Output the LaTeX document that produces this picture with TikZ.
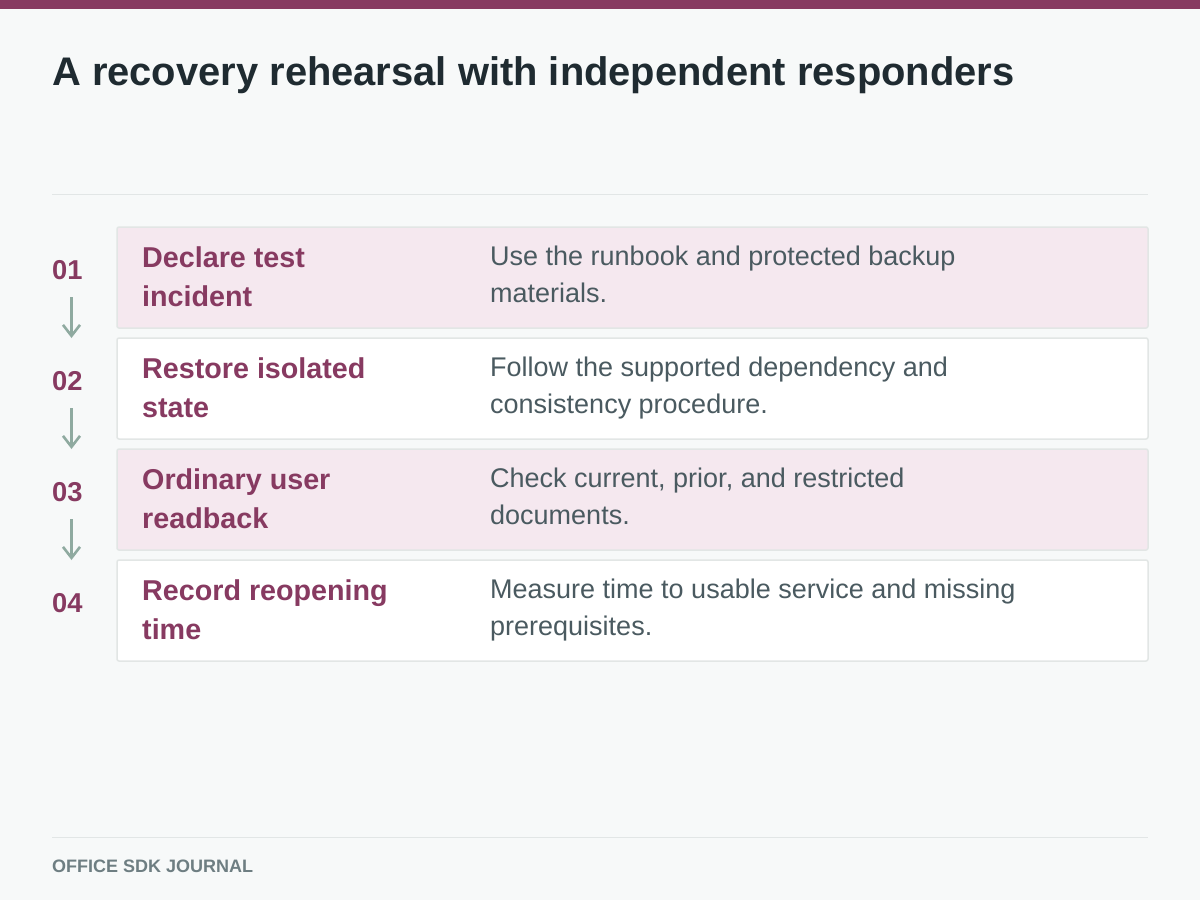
\documentclass[tikz,border=0pt]{standalone}
\usepackage{fontspec}
\setmainfont{Liberation Sans}
\usetikzlibrary{arrows.meta}
\definecolor{barc}{HTML}{873A61}
\definecolor{bgc}{HTML}{F7F9F9}
\definecolor{titlec}{HTML}{1F2B31}
\definecolor{rulec}{HTML}{E2E6E6}
\definecolor{pinkc}{HTML}{F5E8EF}
\definecolor{boxline}{HTML}{E2E6E5}
\definecolor{headc}{HTML}{873A61}
\definecolor{descc}{HTML}{4A5A60}
\definecolor{arrowc}{HTML}{8FAAA0}
\definecolor{footc}{HTML}{6E7E82}
\tikzset{
  rowbox/.style={draw=boxline, line width=1.5pt, rounded corners=2pt},
  pinkrow/.style={rowbox, fill=pinkc},
  whiterow/.style={rowbox, fill=white},
  numtext/.style={anchor=base west, inner sep=0pt, text=headc, font=\bfseries\fontsize{27.3}{30}\selectfont},
  headtext/.style={anchor=base west, inner sep=0pt, align=left, text=headc, font=\bfseries\fontsize{28.7}{39}\selectfont},
  desctext/.style={anchor=base west, inner sep=0pt, align=left, text=descc, font=\fontsize{27}{37}\selectfont},
  steparrow/.style={draw=arrowc, line width=2.6pt, -{Straight Barb[length=11pt,width=17pt,line width=2.6pt]}},
}
\begin{document}
\begin{tikzpicture}[x=1pt,y=-1pt]
\useasboundingbox (0,0) rectangle (1200,900);
\fill[bgc] (0,0) rectangle (1200,900);
\fill[barc] (0,0) rectangle (1200,9);
\node[anchor=base west, inner sep=0pt, text=titlec, font=\bfseries\fontsize{39.9}{45}\selectfont] (title) at (52,85) {A recovery rehearsal with independent responders};
\draw[rulec, line width=1.5pt] (52,194.5) coordinate (r1a) -- (1148,194.5) coordinate (r1b);
% rows
\draw[pinkrow] (117,227) rectangle (1148,328);
\draw[whiterow] (117,338) rectangle (1148,439);
\draw[pinkrow] (117,449) rectangle (1148,550);
\draw[whiterow] (117,560) rectangle (1148,661);
% numbers
\node[numtext] (n1) at (52,279) {01};
\node[numtext] (n2) at (52,390) {02};
\node[numtext] (n3) at (52,501) {03};
\node[numtext] (n4) at (52,612) {04};
% arrows
\coordinate (a1s) at (71.5,297); \coordinate (a1e) at (71.5,338);
\coordinate (a2s) at (71.5,408); \coordinate (a2e) at (71.5,449);
\coordinate (a3s) at (71.5,519); \coordinate (a3e) at (71.5,560);
\draw[steparrow] (a1s) -- (a1e);
\draw[steparrow] (a2s) -- (a2e);
\draw[steparrow] (a3s) -- (a3e);
% headings (anchor = baseline of last line)
\node[headtext] (h1) at (142,306) {Declare test\\incident};
\node[headtext] (h2) at (142,417) {Restore isolated\\state};
\node[headtext] (h3) at (142,528) {Ordinary user\\readback};
\node[headtext] (h4) at (142,639) {Record reopening\\time};
% descriptions
\node[desctext] (d1) at (490,302) {Use the runbook and protected backup\\materials.};
\node[desctext] (d2) at (490,413) {Follow the supported dependency and\\consistency procedure.};
\node[desctext] (d3) at (490,524) {Check current, prior, and restricted\\documents.};
\node[desctext] (d4) at (490,635) {Measure time to usable service and missing\\prerequisites.};
% footer
\draw[rulec, line width=1.5pt] (52,837.5) coordinate (r2a) -- (1148,837.5) coordinate (r2b);
\node[anchor=base west, inner sep=0pt, text=footc, font=\bfseries\fontsize{18}{22}\selectfont] (foot) at (52,872) {OFFICE SDK JOURNAL};
\end{tikzpicture}
\end{document}
